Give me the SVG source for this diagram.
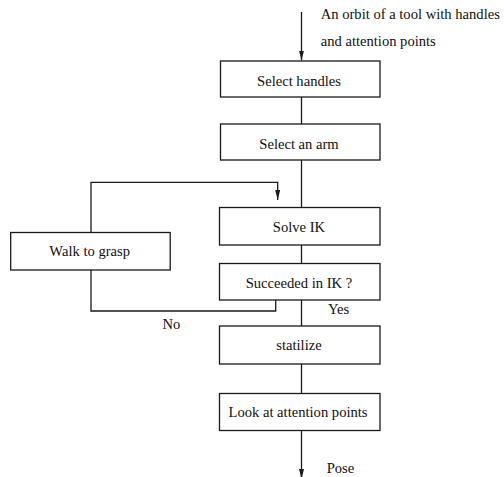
<svg xmlns="http://www.w3.org/2000/svg" width="504" height="477" viewBox="0 0 504 477" font-family="'Liberation Serif', 'DejaVu Serif', serif">
<style>
.box{fill:#fff;stroke:#1a1a1a;stroke-width:1.3}
.ln{fill:none;stroke:#1a1a1a;stroke-width:1.3}
text{font-family:'Liberation Serif','DejaVu Serif',serif;font-size:14.6px;fill:#111}
.c{text-anchor:middle}
</style>
<defs>
<marker id="ah" viewBox="0 0 10 5" refX="10" refY="2.5" markerWidth="10" markerHeight="5" markerUnits="userSpaceOnUse" orient="auto">
<path d="M0,0 L10,2.5 L0,5 Z" fill="#1a1a1a"/>
</marker>
</defs>
<rect width="504" height="477" fill="#fff"/>
<g id="connectors">
<line class="ln" x1="301.5" y1="12" x2="301.5" y2="60.5" marker-end="url(#ah)"/>
<line class="ln" x1="301.5" y1="97" x2="301.5" y2="124"/>
<line class="ln" x1="301.5" y1="160" x2="301.5" y2="207.5"/>
<line class="ln" x1="301.5" y1="245" x2="301.5" y2="263.5"/>
<line class="ln" x1="301.5" y1="300" x2="301.5" y2="326"/>
<line class="ln" x1="301.5" y1="364" x2="301.5" y2="393.5"/>
<line class="ln" x1="301.5" y1="430.5" x2="301.5" y2="479" marker-end="url(#ah)"/>
<polyline class="ln" points="91,232.5 91,182.3 277.7,182.3 277.7,200" marker-end="url(#ah)"/>
<polyline class="ln" points="91,270 91,311 275.7,311 275.7,300"/>
<text x="338.5" y="314" class="c">Yes</text>
<text x="171.5" y="328.5" class="c">No</text>
<text x="320.7" y="19">An orbit of a tool with handles</text>
<text x="320.7" y="46">and attention points</text>
<text x="326.7" y="473">Pose</text>
</g>
<g id="select-handles">
<rect class="box" x="220.5" y="61" width="159.5" height="36"/>
<text x="299" y="85.5" class="c">Select handles</text>
</g>
<g id="select-arm">
<rect class="box" x="220.5" y="124" width="159.5" height="36"/>
<text x="299" y="148.5" class="c">Select an arm</text>
</g>
<g id="solve-ik">
<rect class="box" x="219.5" y="207.5" width="160.5" height="37.5"/>
<text x="299" y="232" class="c">Solve IK</text>
</g>
<g id="succeeded">
<rect class="box" x="219.5" y="263.5" width="160.5" height="36.5"/>
<text x="299" y="287.5" class="c">Succeeded in IK ?</text>
</g>
<g id="stabilize">
<rect class="box" x="219.5" y="326" width="160.5" height="38"/>
<text x="299" y="350" class="c">statilize</text>
</g>
<g id="look-at">
<rect class="box" x="219.5" y="393.5" width="160.5" height="37"/>
<text x="298" y="416.7" class="c">Look at attention points</text>
</g>
<g id="walk-to-grasp">
<rect class="box" x="10.7" y="232.5" width="159.5" height="37.5"/>
<text x="89.7" y="256" class="c">Walk to grasp</text>
</g>
</svg>
